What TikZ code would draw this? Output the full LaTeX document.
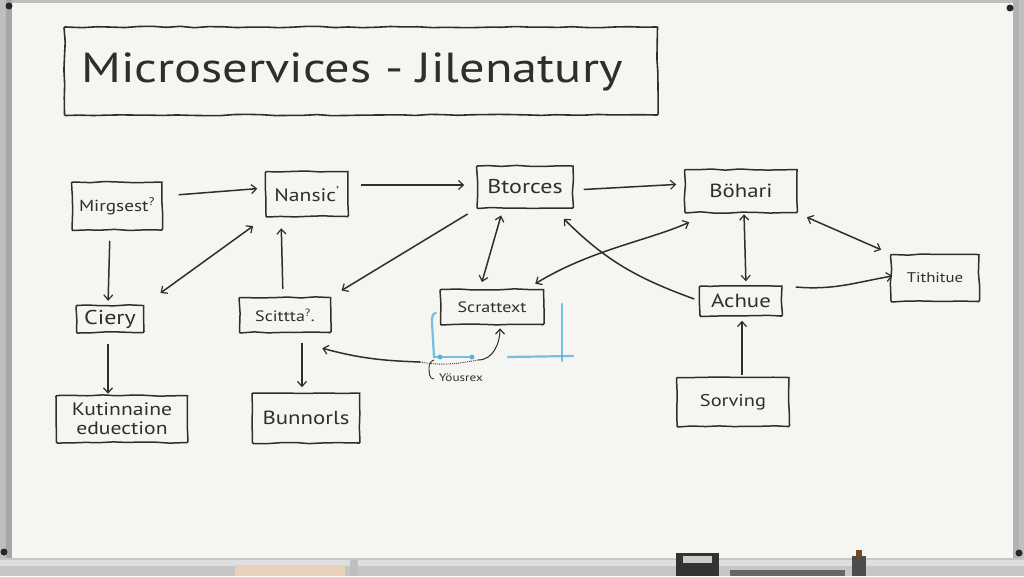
\documentclass[tikz,border=0pt]{standalone}
\usepackage{fontspec}
\setmainfont{PT Sans}[FakeStretch=1.2]
\usetikzlibrary{arrows.meta,decorations.pathmorphing,calc}
\definecolor{inkc}{RGB}{48,46,44}
\definecolor{boardc}{RGB}{245,245,242}
\definecolor{framec}{RGB}{190,190,188}
\definecolor{bluec}{RGB}{85,178,220}
\newcommand{\fsz}[1]{\fontsize{#1}{#1}\selectfont}
\begin{document}
\begin{tikzpicture}[x=1pt,y=-1pt,
  box/.style={draw=inkc,line width=1.5pt,inner sep=0pt,text=inkc,align=center,
    font=\fsz{16},
    decoration={random steps,segment length=14pt,amplitude=0.7pt},decorate,rounded corners=1pt},
  lbl/.style={inner sep=1pt,text=inkc,font=\fsz{11}},
  tip/.tip={Straight Barb[length=5pt,width=9pt,line width=1.2pt]},
  conn/.style={draw=inkc,line width=1.5pt,-tip},
  bi/.style={draw=inkc,line width=1.5pt,tip-tip},
  marker/.style={draw=bluec,line width=2.2pt,line cap=round,opacity=0.8}]
\pgfmathsetseed{7}
\useasboundingbox (0,0) rectangle (1024,576);
% whiteboard
\fill[framec] (0,0) rectangle (1024,576);
\fill[boardc] (12,3) rectangle (1013,560);
\fill[gray!45] (0,558) rectangle (1024,576);
\fill[gray!25] (0,560) rectangle (1024,566);
\fill[gray!70] (6,0) rectangle (12,558);
\fill[gray!60] (1013,0) rectangle (1019,558);
\foreach \p in {(9,6),(1010,8),(4,552),(1019,553)} \fill[gray!30!black] \p circle (3.5);
\fill[brown!35] (235,565) rectangle (345,576);
\fill[black!80] (676,553) rectangle (719,576);
\fill[gray!40] (683,556) rectangle (712,563);
\fill[black!70] (852,556) rectangle (866,576);
\fill[brown!60!black] (856,550) rectangle (862,557);
\fill[black!60] (730,570) rectangle (845,576);
\fill[gray!50] (350,560) rectangle (358,576);
% title
\node[box,minimum width=593,minimum height=88,line width=1.6pt] (title) at (361,71) {};
\node[text=inkc,font=\fsz{42},inner sep=0pt] (titletext) at (352,72) {Microservices - Jilenatury};
% boxes
\node[box,minimum width=90,minimum height=48] (mirg) at (117,206) {Mirgsest\textsuperscript{?}};
\node[box,minimum width=82,minimum height=45,font=\fsz{18}] (nans) at (307,194) {Nansic\textsuperscript{'}};
\node[box,minimum width=96,minimum height=42,font=\fsz{20}] (btor) at (525,187) {Btorces};
\node[box,minimum width=112,minimum height=43,font=\fsz{19}] (bohr) at (741,191) {Böhari};
\node[box,minimum width=88,minimum height=47,font=\fsz{14}] (tith) at (935,278) {Tithitue};
\node[box,minimum width=82,minimum height=30,font=\fsz{19}] (actv) at (741,301) {Achue};
\node[box,minimum width=112,minimum height=49,font=\fsz{17}] (serv) at (733,402) {Sorving};
\node[box,minimum width=103,minimum height=35,font=\fsz{15}] (scat) at (492,307) {Scrattext};
\node[box,minimum width=91,minimum height=35,font=\fsz{15}] (scit) at (285,315) {Scittta\textsuperscript{?}.};
\node[box,minimum width=67,minimum height=27,font=\fsz{20}] (ciery) at (110,319) {Ciery};
\node[box,minimum width=131,minimum height=47,font=\fontsize{18}{19}\selectfont] (kut) at (122,419) {Kutinnaine\\eduection};
\node[box,minimum width=107,minimum height=50,font=\fsz{19}] (bunn) at (306,418) {Bunnorls};
\node[lbl] (yous) at (461,378) {Yöusrex};
\coordinate (ystart) at (420,362);
\coordinate (ysq) at (478,360);
% blue marker
\draw[marker] (434,357) -- (432,322) to[out=90,in=180] (436,313);
\draw[marker] (434,357) -- (470,357);
\draw[marker] (508,357) -- (573,356);
\draw[marker] (562,304) -- (562,361);
\fill[bluec] (440,357) circle (2.4) (472,357) circle (2.4);
% brace near label
\draw[inkc,line width=0.9pt,densely dotted] (ystart) to[out=-10,in=190] (ysq);
\draw[inkc,line width=0.9pt] (434,360) to[out=200,in=90] (429,368) to[out=-90,in=180] (434,379);
% connectors
\draw[conn,shorten <=16pt,shorten >=8pt] ([yshift=10pt]mirg.east) -- ([yshift=6pt]nans.west);
\draw[conn,shorten <=12pt,shorten >=12pt] ([yshift=9pt]nans.east) -- ([yshift=2pt]btor.west);
\draw[conn,shorten <=10pt,shorten >=8pt] ([yshift=-3pt]btor.east) -- ([yshift=7pt]bohr.west);
\draw[conn,shorten <=10pt,shorten >=4pt] ([xshift=-7pt]mirg.south) -- ([xshift=-2pt]ciery.north);
\draw[conn,shorten <=11pt,shorten >=1pt] ([xshift=-2pt]ciery.south) -- ([xshift=-14pt]kut.north);
\draw[bi,shorten <=20pt,shorten >=15pt] (ciery.north east) -- (nans.south west);
\draw[conn,shorten <=8pt,shorten >=11pt] ([xshift=-2pt]scit.north) -- ([xshift=-26pt]nans.south);
\draw[conn,shorten <=10pt,shorten >=12pt] (btor.south west) -- (scit.north east);
\draw[conn,shorten <=10pt,shorten >=5pt] ([xshift=17pt]scit.south) -- ([xshift=-4pt]bunn.north);
\draw[conn] (ystart) to[out=178,in=-15] ([xshift=-9pt,yshift=-15pt]scit.south east);
\draw[bi,shorten <=7pt,shorten >=7pt] ([xshift=-22pt]btor.south) -- ([xshift=-12pt]scat.north);
\draw[bi] ([xshift=5pt,yshift=-9pt]bohr.south west) .. controls (650,240) and (590,250) .. ([xshift=-9pt,yshift=5pt]scat.north east);
\draw[conn] ([xshift=-5pt,yshift=2pt]actv.west) to[out=160,in=-45] ([xshift=-10pt,yshift=-10pt]btor.south east);
\draw[bi,shorten <=1pt,shorten >=4pt] ([xshift=3pt]bohr.south) -- ([xshift=5pt]actv.north);
\draw[bi,shorten <=10pt,shorten >=10pt] (bohr.south east) -- (tith.north west);
\draw[conn] ([xshift=13pt,yshift=14pt]actv.east) to[out=-5,in=190] ([xshift=2pt,yshift=2pt]tith.west);
\draw[conn,shorten <=2pt,shorten >=4pt] ([xshift=9pt]serv.north) -- ([xshift=1pt]actv.south);
\draw[conn,line width=1pt] (ysq) to[out=0,in=-90] ([xshift=8pt,yshift=-3pt]scat.south);
\end{tikzpicture}
\end{document}
